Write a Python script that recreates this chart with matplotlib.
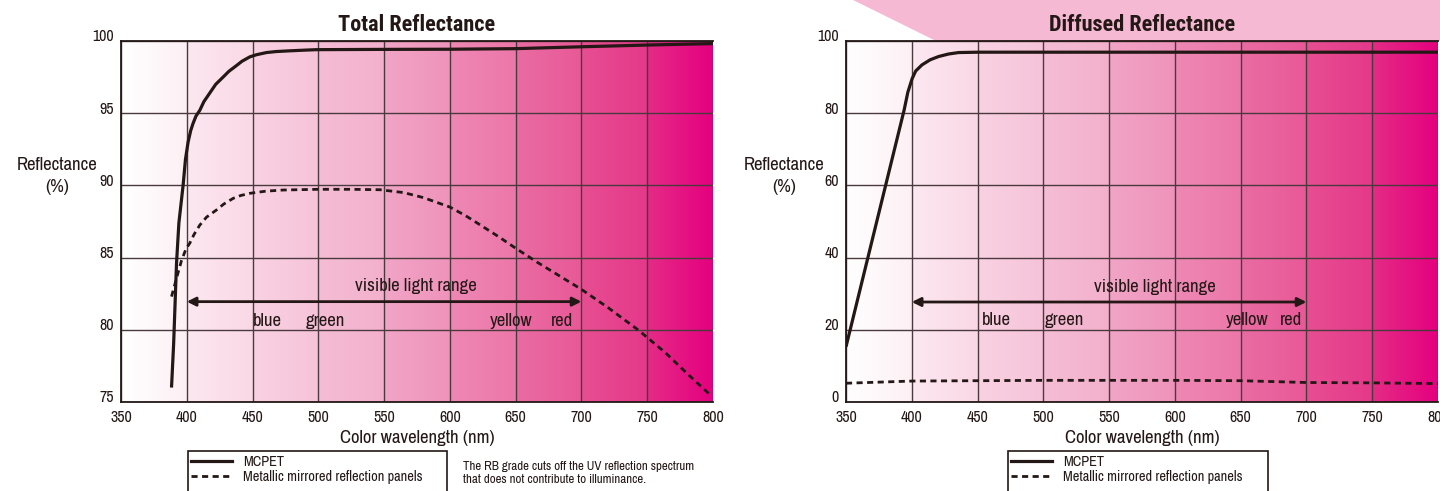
import matplotlib
matplotlib.use("Agg")
import matplotlib.pyplot as plt
import numpy as np
from matplotlib.colors import LinearSegmentedColormap
from matplotlib.transforms import ScaledTranslation
from matplotlib.patches import Polygon, Rectangle
from matplotlib import font_manager as fm

prefs = ['Liberation Sans Narrow', 'Arial Narrow', 'Archivo Narrow', 'Roboto Condensed',
         'PT Sans Narrow', 'Pragati Narrow']
avail = {}
for f in fm.fontManager.ttflist:
    avail.setdefault(f.name, set()).add(f.weight if isinstance(f.weight, int) else 400)
bold_fam = next((p for p in prefs if p in avail and max(avail[p]) >= 700), 'Liberation Sans')
plt.rcParams['font.family'] = prefs + ['Liberation Sans', 'DejaVu Sans']

# ---------------- data ----------------
x_ticks = [350, 400, 450, 500, 550, 600, 650, 700, 750, 800]
total_y_ticks = [75, 80, 85, 90, 95, 100]
diff_y_ticks = [0, 20, 40, 60, 80, 100]

total_mcpet_wl = [388.4, 390, 392.2, 394, 397.2, 399, 401.0, 403, 404.8, 407, 409.9, 413, 417.5,
                  422, 427.6, 432, 437.8, 442, 447.9, 453, 460.6, 468, 478.3, 488, 498.6, 550,
                  600, 650, 700, 750, 800]
total_mcpet_r = [76.0, 79.0, 84.6, 87.4, 90.0, 91.8, 93.0, 93.8, 94.3, 94.8, 95.2, 95.8, 96.4,
                 97.0, 97.5, 97.9, 98.3, 98.6, 98.9, 99.05, 99.2, 99.27, 99.32, 99.36, 99.4, 99.42,
                 99.43, 99.47, 99.6, 99.72, 99.82]

total_metal_wl = [388.4, 392, 396, 399.4, 402.3, 405.5, 409.9, 415, 422.6, 428, 435.2, 441, 447.9,
                  460, 473.2, 500, 523.9, 547, 565, 580, 600, 612, 625, 637, 650, 666, 683, 700,
                  720, 743, 764, 780, 799]
total_metal_r = [82.3, 83.5, 84.8, 85.6, 86.0, 86.6, 87.25, 87.8, 88.3, 88.7, 89.1, 89.3, 89.45,
                 89.6, 89.68, 89.73, 89.73, 89.7, 89.5, 89.15, 88.5, 87.9, 87.15, 86.45, 85.65, 84.7,
                 83.75, 82.8, 81.55, 80.0, 78.4, 77.0, 75.4]

diff_mcpet_wl = [350, 394.2, 397, 400.3, 403, 407.8, 414, 420.4, 428, 435.6, 450.8, 800]
diff_mcpet_r = [15.3, 80.9, 85.8, 89.6, 91.7, 93.4, 94.8, 95.7, 96.4, 96.8, 96.9, 96.9]

diff_metal_wl = [350, 400, 450, 500, 550, 600, 650, 700, 750, 800]
diff_metal_r = [5.2, 5.8, 5.9, 6.0, 6.0, 6.0, 5.9, 5.4, 5.3, 5.1]

visible_range = [400, 700]
color_names = ["blue", "green", "yellow", "red"]
total_color_pos = [450, 490.5, 630, 677]
diff_color_pos = [453, 501, 638.5, 680]

legend_labels = ["MCPET", "Metallic mirrored reflection panels"]
note_text = "The RB grade cuts off the UV reflection spectrum\nthat does not contribute to illuminance."

# ---------------- style ----------------
INK = '#231815'
GRID = '#4a3a3e'
# each 50 nm column carries its own left->right shade
col_shades = [('#ffffff', '#fdf0f5'), ('#fce8f0', '#fad8e6'), ('#f9d2e2', '#f6c3d9'),
              ('#f5bdd5', '#f3b0cc'), ('#f1a5c6', '#ef93bb'), ('#ee88b4', '#ec77a9'),
              ('#ea6ca3', '#e85997'), ('#e74f92', '#e5388a'), ('#e42c86', '#e4007f')]
stops = []
n_cols = len(col_shades)
for i, (c0, c1) in enumerate(col_shades):
    a = i / n_cols
    b = (i + 1) / n_cols
    stops.append((a, c0))
    stops.append((b - 1e-4 if i < n_cols - 1 else 1.0, c1))
cmap = LinearSegmentedColormap.from_list('pinkcols', stops, N=2048)

W, H = 1440, 491
fig = plt.figure(figsize=(W / 100, H / 100), dpi=100)


def frect(x0, y0, x1, y1):
    return [x0 / W, 1 - y1 / H, (x1 - x0) / W, (y1 - y0) / H]


# decorative pink band at top right
fig.patches.append(Polygon([(853 / W, 1), (936 / W, 1 - 41 / H), (1, 1 - 41 / H), (1, 1)],
                           closed=True, transform=fig.transFigure, facecolor='#f5b9d3',
                           edgecolor='none', zorder=-5))

ax1 = fig.add_axes(frect(121, 41, 713, 402))
ax2 = fig.add_axes(frect(846, 41, 1438, 402))


def setup(ax, yticks, title):
    ymin, ymax = yticks[0], yticks[-1]
    grad = np.linspace(0, 1, 2048).reshape(1, -1)
    ax.imshow(grad, extent=[350, 800, ymin, ymax], aspect='auto', cmap=cmap,
              zorder=0, interpolation='nearest')
    ax.set_xlim(350, 800)
    ax.set_ylim(ymin, ymax)
    ax.set_xticks(x_ticks)
    ax.set_yticks(yticks)
    ax.set_axisbelow('line')
    ax.grid(True, color=GRID, lw=1.0)
    for s in ['left', 'top', 'bottom']:
        ax.spines[s].set_color(INK)
        ax.spines[s].set_linewidth(1.3)
    ax.spines['right'].set_visible(False)
    ax.tick_params(length=0, labelsize=11.5, colors=INK)
    ax.tick_params(axis='x', pad=6)
    ax.tick_params(axis='y', pad=5)
    for lab in ax.get_yticklabels():
        lab.set_transform(lab.get_transform() + ScaledTranslation(0, 4 / 72, fig.dpi_scale_trans))
    ax.set_title(title, fontsize=16, fontweight='bold', color=INK, pad=7,
                 family=[bold_fam, 'Liberation Sans'])
    ax.set_xlabel("Color wavelength (nm)", fontsize=13.5, color=INK, labelpad=3)


setup(ax1, total_y_ticks, "Total Reflectance")
setup(ax2, diff_y_ticks, "Diffused Reflectance")

for cx in [57, 784]:
    fig.text(cx / W, 1 - 165 / H, "Reflectance", ha='center', va='center',
             fontsize=13.5, color=INK)
    fig.text(cx / W, 1 - 187 / H, "(%)", ha='center', va='center',
             fontsize=13.5, color=INK)

ax1.plot(total_mcpet_wl, total_mcpet_r, color=INK, lw=2.3, zorder=4,
         solid_capstyle='butt', clip_on=False)
ax1.plot(total_metal_wl, total_metal_r, color=INK, lw=2.0, ls=(0, (2.2, 1.6)), zorder=4,
         clip_on=False)
ax2.plot(diff_mcpet_wl, diff_mcpet_r, color=INK, lw=2.3, zorder=4, solid_capstyle='butt')
ax2.plot(diff_metal_wl, diff_metal_r, color=INK, lw=2.0, ls=(0, (2.2, 1.6)), zorder=4)


def annotate(ax, y_arrow, y_text, x_text, y_names, pos):
    ax.annotate('', xy=(visible_range[1], y_arrow), xytext=(visible_range[0], y_arrow),
                arrowprops=dict(arrowstyle='<|-|>', color=INK, lw=2.0, mutation_scale=13,
                                shrinkA=0, shrinkB=0), zorder=5)
    ax.text(x_text, y_text, "visible light range", ha='center', va='center',
            fontsize=13.5, color=INK, zorder=5)
    for name, p in zip(color_names, pos):
        ax.text(p, y_names, name, ha='left', va='center', fontsize=13.5, color=INK, zorder=5)


annotate(ax1, 81.95, 83.0, 574, 80.62, total_color_pos)
annotate(ax2, 27.7, 31.8, 585, 22.6, diff_color_pos)

proxy1 = plt.Line2D([], [], color=INK, lw=2.3)
proxy2 = plt.Line2D([], [], color=INK, lw=2.0, ls=(0, (2.2, 1.6)))
for lx, rx in [(188, 447), (1008, 1268)]:
    fig.patches.append(Rectangle((lx / W, 1 - 496 / H), (rx - lx) / W, 45 / H,
                                 transform=fig.transFigure, facecolor='white',
                                 edgecolor=INK, lw=1.2, zorder=2))
    leg = fig.legend([proxy1, proxy2], legend_labels, loc='upper left',
                     bbox_to_anchor=(lx / W, 1 - 452 / H), bbox_transform=fig.transFigure,
                     frameon=False, borderaxespad=0, borderpad=0.2, handlelength=2.9,
                     handletextpad=0.75, labelspacing=0.05, fontsize=10.3)
    leg.set_zorder(3)
    for t in leg.get_texts():
        t.set_color(INK)

fig.text(463 / W, 1 - 473 / H, note_text, ha='left', va='center', fontsize=9.3,
         color=INK, linespacing=1.15)

fig.savefig("out.png", dpi=100)
